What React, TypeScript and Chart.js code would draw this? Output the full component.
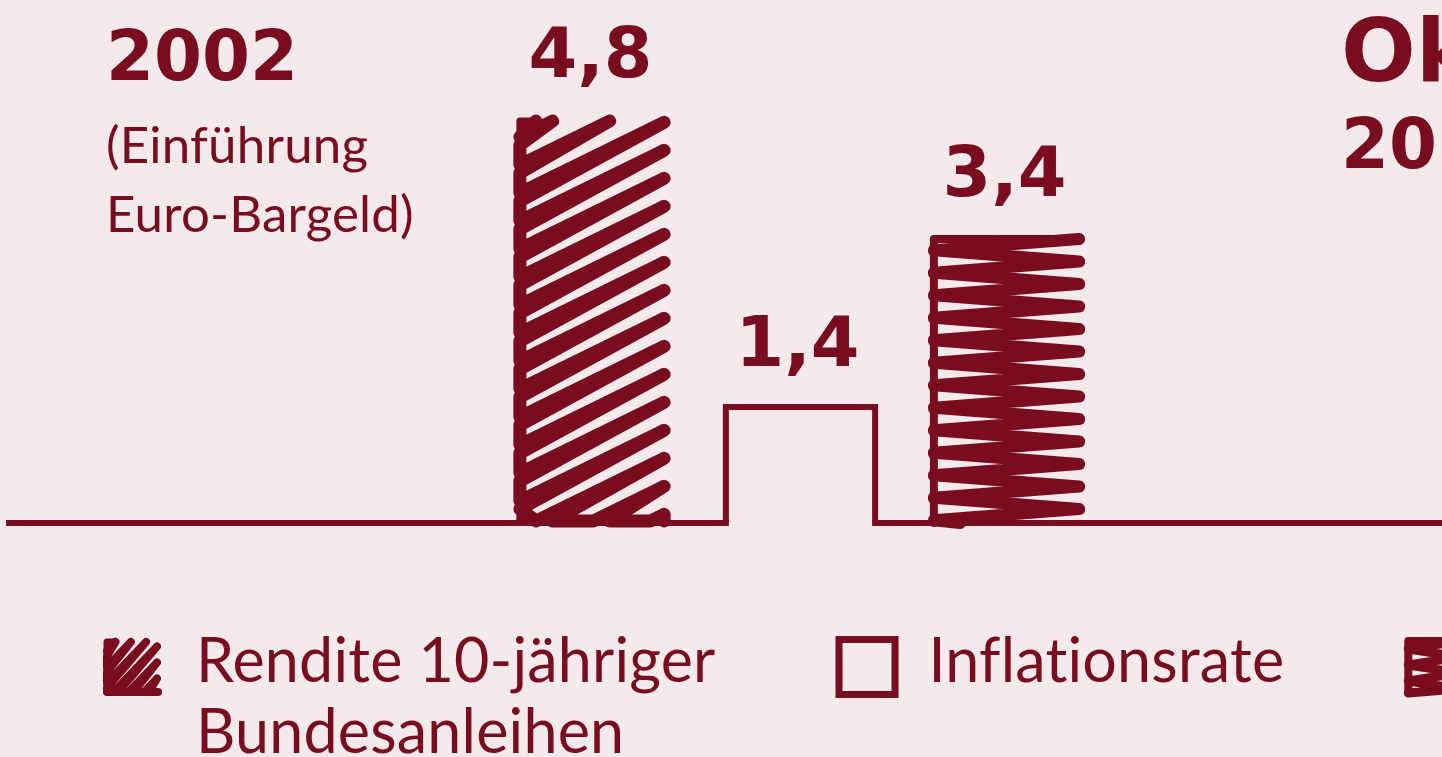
import { useEffect, useRef } from 'react';
import { Chart, registerables } from 'chart.js';

Chart.register(...registerables);

// ---- data ----
const categories = ['2002'];
const categoryNotes = ['(Einführung', 'Euro-Bargeld)'];
const nextCategory = ['Oktober', '2019'];
const seriesLabels = ['Rendite 10-jähriger\nBundesanleihen', 'Inflationsrate', 'Realzins'];
const seriesValues = [[4.8], [1.4], [3.4]];
const seriesStyles = ['scribble', 'outline', 'zigzag'];
const yMin = 0;
const yMax = 6;

// ---- styles ----
const RED = '#7a0c1f';
const BG = '#f4eaec';
const BOLD = '"DejaVu Sans", sans-serif';
const REG = 'Lato, "Open Sans", sans-serif';

const fmt = (v: number) => v.toFixed(1).replace('.', ',');

function scribblePoints(L: number, R: number, T: number, B: number, gap: number, offset: number, slope: number, start: number) {
  const w = R - L;
  const ll = (c: number): [number, number] => (c <= B ? [L, c] : [Math.min(R, L + (c - B) / slope), B]);
  const ur = (c: number): [number, number] => {
    const yr = c - slope * w;
    return yr >= T ? [R, yr] : [L + (c - T) / slope, T];
  };
  const pts: [number, number][] = [];
  for (let c = T + start; c - slope * w < B - 3; c += gap) {
    const a = ll(c);
    if (a[0] >= R - 2) break;
    pts.push(a, ur(c), ll(c + offset));
  }
  return pts;
}

function drawScribble(ctx: CanvasRenderingContext2D, L: number, R: number, T: number, B: number, p: { gap: number; offset: number; slope: number; start: number; lw: number; edge: number; stub: number }) {
  ctx.save();
  ctx.strokeStyle = RED;
  ctx.lineCap = 'round';
  ctx.lineJoin = 'round';
  ctx.lineWidth = p.edge;
  ctx.beginPath();
  ctx.moveTo(L, B);
  ctx.lineTo(L, T);
  ctx.lineTo(L + p.stub, T);
  ctx.stroke();
  ctx.lineWidth = p.lw;
  ctx.beginPath();
  ctx.moveTo(L + p.stub, T);
  for (const pt of scribblePoints(L, R, T, B, p.gap, p.offset, p.slope, p.start)) ctx.lineTo(pt[0], pt[1]);
  ctx.stroke();
  ctx.restore();
}

function drawZigzag(ctx: CanvasRenderingContext2D, L: number, R: number, T: number, B: number, period: number, lw: number, edge: number) {
  ctx.save();
  ctx.strokeStyle = RED;
  ctx.lineCap = 'round';
  ctx.lineJoin = 'round';
  ctx.lineWidth = edge;
  ctx.beginPath();
  ctx.moveTo(L, B);
  ctx.lineTo(L, T);
  ctx.lineTo(R, T);
  ctx.stroke();
  ctx.lineWidth = lw;
  ctx.beginPath();
  ctx.moveTo(R, T);
  let y = T;
  while (y < B) {
    const yl = Math.min(B, y + period / 2);
    ctx.lineTo(L, yl);
    if (yl >= B) break;
    const yr = Math.min(B, y + period);
    ctx.lineTo(yr >= B ? L + (R - L) * 0.18 : R, yr);
    y += period;
  }
  ctx.stroke();
  ctx.restore();
}

function drawOutline(ctx: CanvasRenderingContext2D, l: number, r: number, t: number, b: number, lw: number, closed: boolean) {
  ctx.save();
  ctx.strokeStyle = RED;
  ctx.lineWidth = lw;
  ctx.lineJoin = 'miter';
  ctx.lineCap = 'butt';
  const h = lw / 2;
  ctx.beginPath();
  if (closed) {
    ctx.rect(l + h, t + h, r - l - lw, b - t - lw);
  } else {
    ctx.moveTo(l + h, b);
    ctx.lineTo(l + h, t + h);
    ctx.lineTo(r - h, t + h);
    ctx.lineTo(r - h, b);
  }
  ctx.stroke();
  ctx.restore();
}

function barBox(chart: any, i: number) {
  const el = chart.getDatasetMeta(i).data[0];
  const p = el.getProps(['x', 'y', 'base', 'width'], true);
  return { left: p.x - p.width / 2, right: p.x + p.width / 2, top: p.y, base: p.base, x: p.x };
}

function noLigatures(ctx: CanvasRenderingContext2D) {
  try {
    (ctx as any).letterSpacing = '0.2px';
  } catch (e) {
    /* ignore */
  }
}

const sketchPlugin = {
  id: 'sketchBars',
  beforeDatasetsDraw(chart: any) {
    const ctx: CanvasRenderingContext2D = chart.ctx;
    const y0 = chart.scales.y.getPixelForValue(0);
    const gaps: [number, number][] = [];
    seriesStyles.forEach((s, i) => {
      if (s === 'outline') {
        const b = barBox(chart, i);
        gaps.push([b.left + 6, b.right - 6]);
      }
    });
    ctx.save();
    ctx.strokeStyle = RED;
    ctx.lineWidth = 6;
    ctx.beginPath();
    let x = 6;
    gaps.sort((a, b) => a[0] - b[0]).forEach(([a, b]) => {
      ctx.moveTo(x, y0);
      ctx.lineTo(a, y0);
      x = b;
    });
    ctx.moveTo(x, y0);
    ctx.lineTo(chart.width, y0);
    ctx.stroke();
    ctx.restore();
  },
  afterDatasetsDraw(chart: any) {
    const ctx: CanvasRenderingContext2D = chart.ctx;
    seriesStyles.forEach((s, i) => {
      const b = barBox(chart, i);
      if (s === 'scribble') {
        drawScribble(ctx, b.left + 4, b.right - 7, b.top + 6, b.base - 2, { gap: 28, offset: 8, slope: 0.49, start: 16, lw: 13, edge: 7, stub: 16 });
      } else if (s === 'outline') {
        drawOutline(ctx, b.left, b.right, b.top, b.base, 6, false);
      } else {
        drawZigzag(ctx, b.left + 4, b.right - 6, b.top + 5, b.base, 22.5, 12, 8);
      }
      ctx.save();
      ctx.fillStyle = RED;
      ctx.font = `bold 70px ${BOLD}`;
      ctx.textAlign = 'center';
      ctx.textBaseline = 'alphabetic';
      ctx.fillText(fmt(seriesValues[i][0]), b.x - 3, b.top - 38);
      ctx.restore();
    });
  },
  afterDraw(chart: any) {
    const ctx: CanvasRenderingContext2D = chart.ctx;
    ctx.save();
    ctx.fillStyle = RED;
    ctx.textAlign = 'left';
    ctx.textBaseline = 'alphabetic';
    // category heading (left)
    ctx.font = `bold 69px ${BOLD}`;
    ctx.fillText(categories[0], 106, 80);
    ctx.font = `51px ${REG}`;
    noLigatures(ctx);
    categoryNotes.forEach((t, k) => ctx.fillText(t, 106, 163 + k * 69));
    (ctx as any).letterSpacing = '0px';
    // next category heading (cut off at right)
    ctx.font = `bold 88px ${BOLD}`;
    ctx.fillText(nextCategory[0], 1341, 81);
    ctx.font = `bold 69px ${BOLD}`;
    ctx.fillText(nextCategory[1], 1341, 168);

    // legend
    let x = 103;
    const iconTop = 637;
    const iconW = 60;
    const iconH = 60;
    seriesLabels.forEach((label, i) => {
      const s = seriesStyles[i];
      if (s === 'scribble') {
        drawScribble(ctx, x + 4, x + iconW - 6, iconTop + 5, iconTop + iconH - 5, { gap: 16, offset: 5, slope: 1.05, start: 9, lw: 8, edge: 7, stub: 8 });
        ctx.save();
        ctx.strokeStyle = RED;
        ctx.lineWidth = 8;
        ctx.lineCap = 'round';
        ctx.beginPath();
        ctx.moveTo(x + 4, iconTop + iconH - 5);
        ctx.lineTo(x + iconW - 5, iconTop + iconH - 5);
        ctx.stroke();
        ctx.restore();
      } else if (s === 'outline') {
        drawOutline(ctx, x, x + iconW + 3, iconTop - 1, iconTop + iconH + 1, 7, true);
      } else {
        drawZigzag(ctx, x + 4, x + iconW - 5, iconTop + 4, iconTop + iconH - 4, 16, 9, 8);
      }
      const tx = x + 93;
      ctx.fillStyle = RED;
      ctx.font = `61px ${REG}`;
      noLigatures(ctx);
      const lines = label.split('\n');
      let w = 0;
      lines.forEach((ln, k) => {
        ctx.fillText(ln, tx, 682 + k * 71);
        w = Math.max(w, ctx.measureText(ln).width);
      });
      (ctx as any).letterSpacing = '0px';
      x = tx + w + 120;
    });
    ctx.restore();
  },
};

export default function App() {
  const ref = useRef<HTMLCanvasElement>(null);
  useEffect(() => {
    document.body.style.margin = '0';
    document.body.style.background = BG;
    const chart = new Chart(ref.current as HTMLCanvasElement, {
      type: 'bar',
      data: {
        labels: categories,
        datasets: seriesLabels.map((label, i) => ({
          label,
          data: seriesValues[i],
          backgroundColor: 'rgba(0,0,0,0)',
          borderWidth: 0,
          categoryPercentage: 1,
          barPercentage: 0.75,
        })),
      },
      options: {
        animation: false,
        responsive: false,
        maintainAspectRatio: false,
        events: [],
        layout: { padding: { left: 490, right: 331, top: 13, bottom: 234 } },
        scales: {
          x: { display: false },
          y: { display: false, min: yMin, max: yMax },
        },
        plugins: { legend: { display: false }, tooltip: { enabled: false } },
      },
      plugins: [sketchPlugin],
    } as any);
    return () => chart.destroy();
  }, []);
  return (
    <div style={{ position: 'fixed', left: 0, top: 0, width: 1442, height: 757, background: BG, overflow: 'hidden' }}>
      <canvas ref={ref} width={1442} height={757} style={{ display: 'block', width: 1442, height: 757 }} />
    </div>
  );
}
